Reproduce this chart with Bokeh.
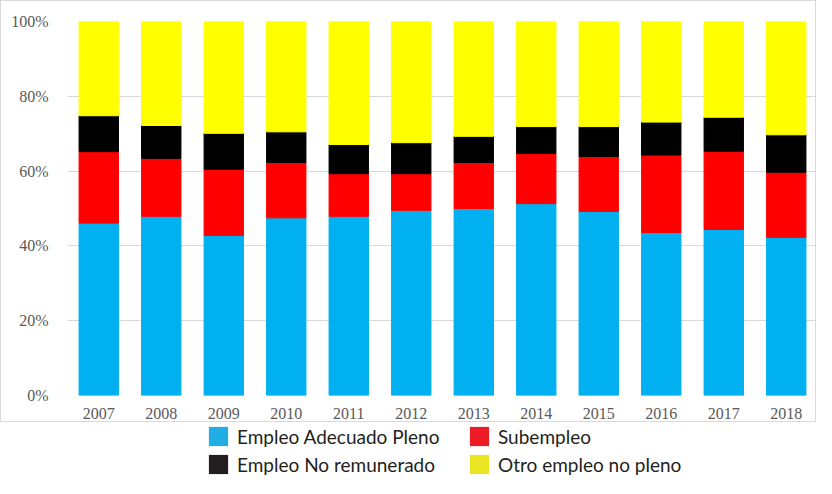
from bokeh.plotting import figure
from bokeh.layouts import column
from bokeh.models import FactorRange, Range1d, FixedTicker, PrintfTickFormatter, Legend, LegendItem
from bokeh.embed import file_html
from bokeh.resources import INLINE

years = ["2007", "2008", "2009", "2010", "2011", "2012",
         "2013", "2014", "2015", "2016", "2017", "2018"]
adecuado = [46.1, 47.9, 42.8, 47.5, 47.9, 49.5, 50.0, 51.3, 49.2, 43.6, 44.4, 42.3]
subempleo = [19.1, 15.5, 17.7, 14.8, 11.4, 9.8, 12.3, 13.4, 14.7, 20.7, 20.9, 17.4]
no_remunerado = [9.6, 8.8, 9.6, 8.2, 7.8, 8.3, 7.0, 7.2, 8.0, 8.8, 9.1, 10.0]
otro = [25.2, 27.8, 29.9, 29.5, 32.9, 32.4, 30.7, 28.1, 28.1, 26.9, 25.6, 30.3]

series_keys = ["adecuado", "subempleo", "no_remunerado", "otro"]
series_names = ["Empleo Adecuado Pleno", "Subempleo", "Empleo No remunerado", "Otro empleo no pleno"]
colors = ["#00B0F0", "#FF0000", "#000000", "#FFFF00"]
legend_colors = ["#20AEE4", "#ED1C24", "#231F20", "#E9E524"]
y_ticks = [0, 20, 40, 60, 80, 100]

source = dict(years=years, adecuado=adecuado, subempleo=subempleo,
              no_remunerado=no_remunerado, otro=otro)

# ---------------- chart ----------------
p = figure(x_range=FactorRange(*years), y_range=Range1d(0, 100),
           width=816, height=422, output_backend="svg", toolbar_location=None,
           min_border_left=66, min_border_right=0, min_border_top=20, min_border_bottom=28)
p.styles = {"border": "1px solid #D9D9D9"}
p.outline_line_color = None
p.background_fill_color = "white"

p.vbar_stack(series_keys, x="years", width=0.63, color=colors, source=source)

p.yaxis.ticker = FixedTicker(ticks=y_ticks)
p.yaxis.formatter = PrintfTickFormatter(format="%d%%")
for ax in (p.xaxis[0], p.yaxis[0]):
    ax.axis_line_color = None
    ax.major_tick_line_color = None
    ax.minor_tick_line_color = None
    ax.major_label_text_font = "Liberation Serif"
    ax.major_label_text_font_size = "16px"
    ax.major_label_text_color = "#595959"
p.yaxis.major_label_standoff = 13
p.xaxis.major_label_standoff = 6

p.xgrid.grid_line_color = None
p.ygrid.grid_line_color = "#D9D9D9"
p.ygrid.grid_line_width = 1

# ---------------- legend (swatches only; their renderers have zero size) ----------------
lp = figure(x_range=(0, 1), y_range=(0, 1), width=816, height=54,
            output_backend="svg", toolbar_location=None,
            min_border_left=0, min_border_right=0, min_border_top=0, min_border_bottom=0)
lp.axis.visible = False
lp.grid.grid_line_color = None
lp.outline_line_color = None

items = []
for name, c in zip(series_names, legend_colors):
    r = lp.vbar(x=[0.5], top=[0], width=0, fill_color=c, line_color=None)
    items.append(LegendItem(label=name, renderers=[r]))

lg = Legend(items=items, location=(140, -2), orientation="horizontal", ncols=2,
            padding=0, margin=0, spacing=0,
            glyph_width=24, glyph_height=24, label_standoff=7,
            label_width=230, label_height=28,
            border_line_color=None, background_fill_alpha=0,
            label_text_font="Lato", label_text_font_size="19px",
            label_text_color="#231F20")
lp.add_layout(lg, "center")

layout = column(p, lp, spacing=0)
open("out.html", "w").write(file_html(layout, INLINE))
